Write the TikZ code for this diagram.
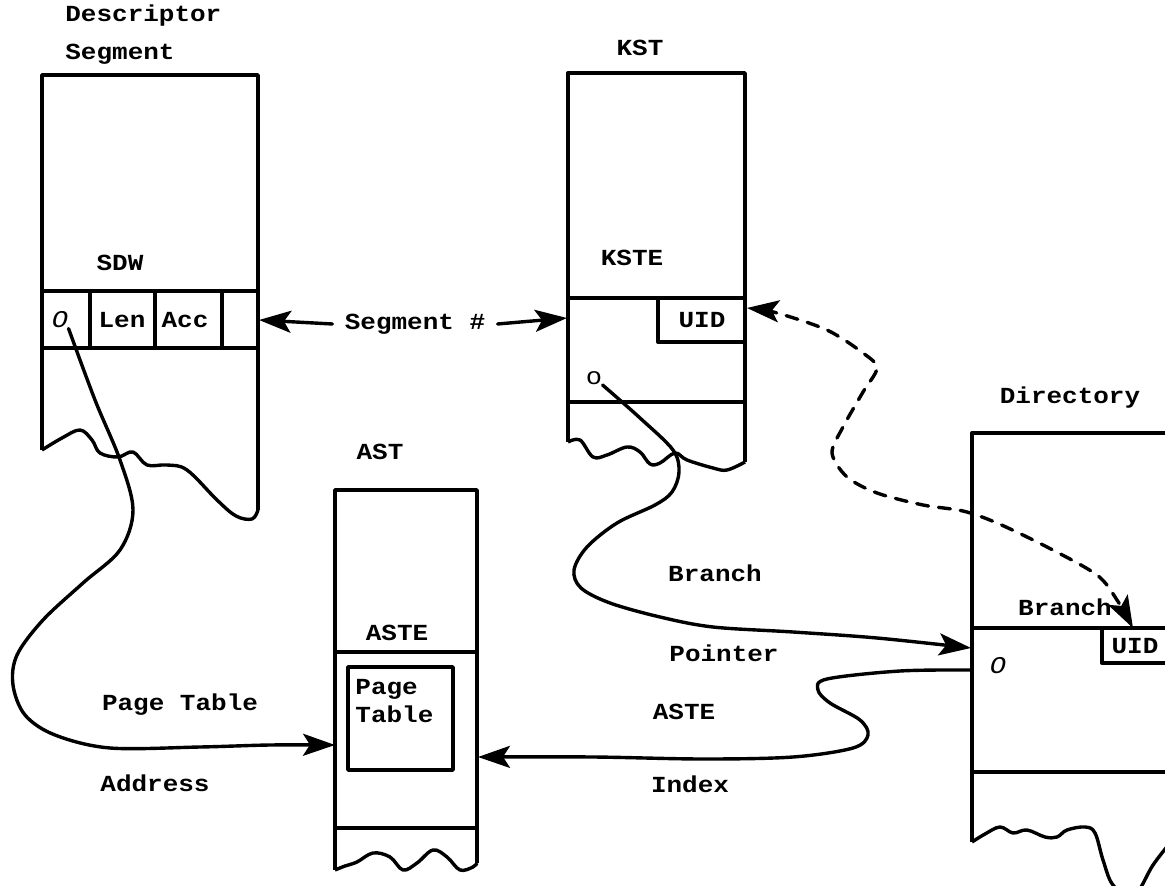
\documentclass[tikz,border=0pt]{standalone}
\usepackage{fontspec}
\newfontfamily\tw[FakeStretch=1.13]{Liberation Mono}
\usetikzlibrary{arrows.meta}

\begin{document}
\begin{tikzpicture}[
  x=0.5pt, y=-0.5pt,
  table/.style={line width=1.7pt, line join=round},
  wire/.style={line width=1.7pt, line cap=round},
  arrow/.style={wire, -{Stealth[length=16pt, width=11pt, inset=3.5pt]}},
  twoway/.style={wire, {Stealth[length=16pt, width=11pt, inset=3.5pt]}-{Stealth[length=16pt, width=11pt, inset=3.5pt]}},
  label/.style={font=\tw\bfseries\fontsize{11.5}{14}\selectfont, inner sep=0pt},
  ptr/.style={label, font=\tw\itshape\fontsize{12}{14}\selectfont}
]
  \clip (0,0) rectangle (1165,886);

  % descriptor segment
  \node[label, align=left, anchor=west] (dsname) at (65,35) {Descriptor\\[5pt]Segment};
  \draw[table] (42,450) |- (258,75) -- (258,510);
  \draw[table] plot[smooth, tension=0.6] coordinates {(42,450) (62,438) (80,430) (92,440) (100,453) (118,457) (133,452) (147,465) (167,465) (187,470) (217,500) (236,516) (252,519) (258,510)};
  \draw[table] (42,291) -- (258,291) (42,348) -- (258,348);
  \foreach \x in {90,155,222} \draw[table] (\x,291) -- (\x,348);
  \node[label] (sdw) at (120,263) {SDW};
  \node[ptr] (sdwo) at (60,320) {O};
  \node[label] (len) at (122,320) {Len};
  \node[label] (acc) at (185,320) {Acc};

  % KST
  \node[label] (kstname) at (640,48) {KST};
  \draw[table] (568,442) |- (745,73) -- (745,462);
  \draw[table] plot[smooth, tension=0.6] coordinates {(568,442) (580,440) (593,457) (607,455) (627,447) (640,452) (650,464) (660,463) (675,453) (687,460) (713,468) (727,470) (745,462)};
  \draw[table] (568,298) -- (745,298) (568,402) -- (745,402);
  \draw[table] (658,298) |- (745,342);
  \node[label] (kste) at (632,258) {KSTE};
  \node[label] (kstuid) at (702,320) {UID};
  \node[label, font=\tw\fontsize{12}{14}\selectfont] (ksto) at (594,378) {o};

  % AST
  \node[label] (astname) at (380,452) {AST};
  \draw[table] (335,870) |- (477,490) -- (477,863);
  \draw[table] plot[smooth, tension=0.6] coordinates {(335,870) (345,866) (357,862) (373,853) (390,857) (403,870) (417,863) (433,850) (447,857) (460,870) (473,867) (477,863)};
  \draw[table] (335,652) -- (477,652) (335,828) -- (477,828);
  \draw[table] (348,667) rectangle (453,770);
  \node[label] (aste) at (397,633) {ASTE};
  \node[label, align=left, anchor=north west] (ptable) at (355,679) {Page\\Table};

  % directory
  \node[label] (dirname) at (1070,398) {Directory};
  \draw[table] (972,842) |- (1170,433);
  \draw[table] plot[smooth, tension=0.6] coordinates {(972,842) (985,834) (1000,827) (1013,833) (1027,830) (1045,837) (1057,837) (1067,830) (1085,827) (1095,833) (1103,860) (1113,885) (1133,897) (1153,865) (1170,843)};
  \draw[table] (972,628) -- (1170,628) (972,772) -- (1170,772);
  \draw[table] (1102,628) |- (1170,663);
  \node[label] (dirbranch) at (1065,607) {Branch};
  \node[label] (diruid) at (1135,646) {UID};
  \node[ptr] (diro) at (998,666) {O};

  % arrow ends
  \coordinate (sdwr) at (259,320);
  \coordinate (kstl) at (567,318);
  \coordinate (kstr) at (747,308);
  \coordinate (astl) at (335,745);
  \coordinate (astr) at (478,757);
  \coordinate (dirl) at (971,648);
  \coordinate (dirlo) at (972,670);
  \coordinate (dirtop) at (1133,628);

  % connectors
  \node[label, inner xsep=6pt] (segno) at (415,324) {Segment \#};
  \draw[arrow] (segno.west) -- (sdwr);
  \draw[arrow] (segno.east) -- (kstl);

  \draw[arrow] plot[smooth, tension=0.55] coordinates {(sdwo.south east) (95,400) (120,460) (133,510) (120,550) (83,583) (43,620) (17,655) (13,685) (25,715) (55,735) (110,748) (200,747) (270,745) (astl)};
  \node[label] (ptlabel) at (180,705) {Page Table};
  \node[label] (addrlabel) at (155,783) {Address};

  \draw[arrow] plot[smooth, tension=0.55] coordinates {(ksto.south east) (640,418) (673,450) (679,472) (672,492) (655,505) (617,523) (587,547) (574,570) (581,588) (610,603) (660,617) (713,627) (793,632) (877,638) (dirl)};
  \node[label] (brlabel) at (715,573) {Branch};
  \node[label] (polabel) at (724,653) {Pointer};

  \draw[arrow] plot[smooth, tension=0.55] coordinates {(dirlo) (900,671) (827,679) (818,690) (830,703) (860,720) (868,735) (853,748) (793,757) (703,759) (593,757) (astr)};
  \node[label] (astelabel) at (684,712) {ASTE};
  \node[label] (idxlabel) at (690,784) {Index};

  \draw[twoway, dash pattern=on 6pt off 5pt] plot[smooth, tension=0.5] coordinates {(kstr) (777,313) (827,330) (863,353) (877,368) (863,392) (843,427) (832,453) (847,477) (877,493) (923,505) (963,511) (997,523) (1047,547) (1097,575) (1117,600) (dirtop)};
\end{tikzpicture}
\end{document}
